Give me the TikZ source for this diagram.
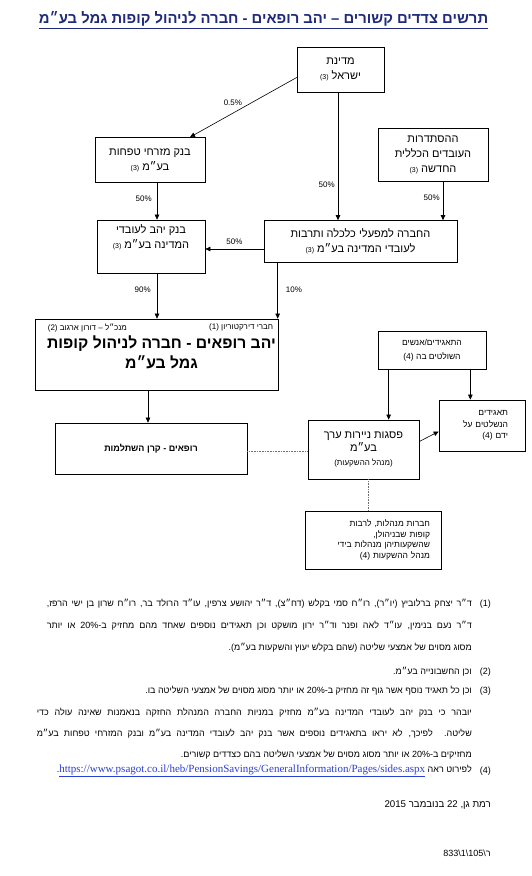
\documentclass[tikz,border=0pt]{standalone}
\usepackage{fontspec}
\setmainfont{Liberation Sans}[Script=Hebrew]
\newfontfamily\urlfont{Liberation Serif}
\TeXXeTstate=1
\usetikzlibrary{arrows.meta,positioning,calc}
\definecolor{ink}{HTML}{000000}
\definecolor{navy}{HTML}{1F2A7C}
\definecolor{linkblue}{HTML}{2A3FD6}
\definecolor{dotgray}{HTML}{707070}
\newcommand{\refno}[1]{{\fontsize{7}{8}\selectfont\beginL(#1)\endL}}
\tikzset{
  >={Triangle[length=5pt,width=4.5pt]},
  every node/.append style={text=ink},
  entity/.style={draw, line width=0.7pt, inner sep=2pt, align=center,
    font=\fontsize{11}{15}\selectfont},
  smallentity/.style={entity, font=\fontsize{8.5}{14}\selectfont},
  pct/.style={font=\fontsize{8}{9}\selectfont, inner sep=1pt},
  link/.style={->, line width=0.6pt},
  tie/.style={densely dotted, dotgray, line width=0.6pt},
  note/.style={font=\fontsize{9}{10}\selectfont, anchor=east, inner sep=0pt},
}
\begin{document}
\begin{tikzpicture}[x=1pt,y=-1pt]
  \path[use as bounding box, fill=white] (0,0) rectangle (531,876);

  % Title
  \node[font=\fontsize{14.8}{18}\selectfont\bfseries, text=navy] (title) at (263.5,20)
    {\underline{\beginR תרשים צדדים קשורים – יהב רופאים - חברה לניהול קופות גמל בע״מ\endR}};

  % Holders
  \node[entity, minimum width=87pt, minimum height=45pt] (state) at (340.5,69.5)
    {\beginR מדינת\endR\\\beginR ישראל \refno{3}\endR};
  \node[entity, minimum width=110pt, minimum height=45pt] (mizrahi) at (150,160)
    {\beginR בנק מזרחי טפחות\endR\\\beginR בע״מ \refno{3}\endR};
  \node[entity, minimum width=110pt, minimum height=53pt] (histadrut) at (433,154.5)
    {\beginR ההסתדרות\endR\\\beginR העובדים הכללית\endR\\\beginR החדשה \refno{3}\endR};
  \node[draw, line width=0.7pt, minimum width=108pt, minimum height=53pt] (yahav) at (151,246.5) {};
  \node[entity, draw=none, anchor=north] (yahavname) at ([yshift=-3pt]yahav.north)
    {\beginR בנק יהב לעובדי\endR\\\beginR המדינה בע״מ \refno{3}\endR};
  \node[entity, minimum width=193pt, minimum height=42pt] (hevra) at (360.5,241.5)
    {\beginR החברה למפעלי כלכלה ותרבות\endR\\\beginR לעובדי המדינה בע״מ \refno{3}\endR};

  % Managing company
  \node[draw, line width=0.7pt, minimum width=243pt, minimum height=71pt] (main) at (156.5,354.5) {};
  \node[pct, anchor=north east] (board) at ([xshift=-4pt,yshift=-4pt]main.north east)
    {\beginR חברי דירקטוריון \beginL(1)\endL\endR};
  \node[pct, anchor=north west] (ceo) at ([xshift=12pt,yshift=-4pt]main.north west)
    {\beginR מנכ״ל – דורון ארגוב \beginL(2)\endL\endR};
  \node[font=\fontsize{15.7}{20}\selectfont\bfseries, align=center, anchor=north] (mainname)
    at ([xshift=5pt,yshift=-14pt]main.north)
    {\beginR יהב רופאים - חברה לניהול קופות\endR\\\beginR גמל בע״מ\endR};
  \node[entity, minimum width=192pt, minimum height=51pt, font=\fontsize{9}{15}\selectfont\bfseries]
    (fund) at (151,448.5) {\beginR רופאים - קרן השתלמות\endR};

  % Investment manager side
  \node[smallentity, minimum width=108pt, minimum height=38pt] (controllers) at (432,350)
    {\beginR התאגידים/אנשים\endR\\\beginR השולטים בה \beginL(4)\endL\endR};
  \node[entity, minimum width=111pt, minimum height=59pt, font=\fontsize{11}{13.5}\selectfont]
    (psagot) at (363.5,449.5)
    {\beginR פסגות ניירות ערך\endR\\\beginR בע״מ\endR\\{\fontsize{8}{10}\selectfont\beginR (מנהל ההשקעות)\endR}};
  \node[smallentity, align=right, font=\fontsize{8.5}{11.5}\selectfont, text width=52pt,
    minimum width=86pt, minimum height=51pt] (subs) at (482,425.5)
    {\beginR תאגידים\endR\\\beginR הנשלטים על\endR\\\beginR ידם \beginL(4)\endL\endR};
  \node[smallentity, align=right, font=\fontsize{8.5}{10.8}\selectfont, text width=114pt,
    minimum width=136pt, minimum height=58pt] (managers) at (373,540)
    {\beginR חברות מנהלות, לרבות\endR\\\beginR קופות שבניהולן,\endR\\\beginR שהשקעותיהן מנהלות בידי\endR\\\beginR מנהל ההשקעות \beginL(4)\endL\endR};

  % Holdings
  \draw[link] ([yshift=-8pt]state.west) -- node[pct, pos=0.5, above left=0pt] (p1) {0.5\%}
    ([xshift=40pt]mizrahi.north);
  \draw[link] ([xshift=-2.5pt]state.south) -- node[pct, pos=0.72, left=2pt] (p2) {50\%}
    ([xshift=-2.5pt]state.south |- hevra.north);
  \draw[link] ([xshift=10pt]histadrut.south) -- node[pct, pos=0.42, left=2pt] (p3) {50\%}
    ([xshift=10pt]histadrut.south |- hevra.north);
  \draw[link] ([xshift=7pt]mizrahi.south) -- node[pct, pos=0.42, left=4pt] (p4) {50\%}
    ([xshift=7pt]mizrahi.south |- yahav.north);
  \draw[link] ([yshift=-7.5pt]hevra.west) -- node[pct, above=3pt] (p5) {50\%}
    ([yshift=-7.5pt]hevra.west -| yahav.east);
  \draw[link] ([xshift=6pt]yahav.south) -- node[pct, pos=0.37, left=5pt] (p6) {90\%}
    ([xshift=6pt]yahav.south |- main.north);
  \draw[link] ([xshift=14pt]hevra.south west) -- node[pct, pos=0.48, right=7pt] (p7) {10\%}
    ([xshift=14pt]hevra.south west |- main.north);
  \draw[link] ([xshift=-8.5pt]main.south) -- ([xshift=-8.5pt]main.south |- fund.north);
  \draw[link] ([xshift=11pt]controllers.south west) -- ([xshift=11pt]controllers.south west |- psagot.north);
  \draw[link] ([xshift=-16pt]controllers.south east) -- ([xshift=-16pt]controllers.south east |- subs.north);
  \draw[link] ([yshift=8pt]psagot.east) -- ([yshift=-6pt]subs.west);
  \draw[tie] ([yshift=-2.5pt]fund.east) -- ([yshift=-2.5pt]fund.east -| psagot.west);
  \draw[tie] ([xshift=4.5pt]psagot.south) -- ([xshift=4.5pt]psagot.south |- managers.north);

  % Notes
  \node[note] (n1) at (491,604) {(1)};
  \node[note] (n1a) at (472,604) {\hbox to 425pt{\beginR ד״ר יצחק ברלוביץ (יו״ר), רו״ח סמי בקלש (דח״צ), ד״ר יהושע צרפין, עו״ד הרולד בר, רו״ח שרון בן ישי הרפז,\endR}};
  \node[note] (n1b) at (472,626) {\hbox to 425pt{\beginR ד״ר נעם בנימין, עו״ד לאה ופנר וד״ר ירון מושקט וכן תאגידים נוספים שאחד מהם מחזיק ב-20\% או יותר\endR}};
  \node[note] (n1c) at (472,648) {\beginR מסוג מסוים של אמצעי שליטה (שהם בקלש יעוץ והשקעות בע״מ).\endR};
  \node[note] (n2) at (491,672) {(2)};
  \node[note] (n2a) at (472,672) {\beginR וכן החשבונייה בע״מ.\endR};
  \node[note] (n3) at (491,691) {(3)};
  \node[note] (n3a) at (472,691) {\beginR וכן כל תאגיד נוסף אשר גוף זה מחזיק ב-20\% או יותר מסוג מסוים של אמצעי השליטה בו.\endR};
  \node[note] (n3b) at (472,713) {\hbox to 435pt{\beginR יובהר כי בנק יהב לעובדי המדינה בע״מ מחזיק במניות החברה המנהלת החזקה בנאמנות שאינה עולה כדי\endR}};
  \node[note] (n3c) at (472,734) {\hbox to 435pt{\beginR שליטה. לפיכך, לא יראו בתאגידים נוספים אשר בנק יהב לעובדי המדינה בע״מ ובנק המזרחי טפחות בע״מ\endR}};
  \node[note] (n3d) at (472,755) {\beginR מחזיקים ב-20\% או יותר מסוג מסוים של אמצעי השליטה בהם כצדדים קשורים.\endR};
  \node[note] (n4) at (491,771) {(4)};
  \node[note] (n4a) at (472,771) {\beginR לפירוט ראה \beginL{\urlfont\fontsize{11}{12}\selectfont\color{linkblue}\underline{https://www.psagot.co.il/heb/PensionSavings/GeneralInformation/Pages/sides.aspx}}\endL.\endR};
  \node[note, font=\fontsize{9.7}{11}\selectfont] (date) at (491,805) {\beginR רמת גן, 22 בנובמבר 2015\endR};
  \node[note] (docref) at (491,853) {ר\textbackslash 105\textbackslash 1\textbackslash 833};
\end{tikzpicture}
\end{document}
